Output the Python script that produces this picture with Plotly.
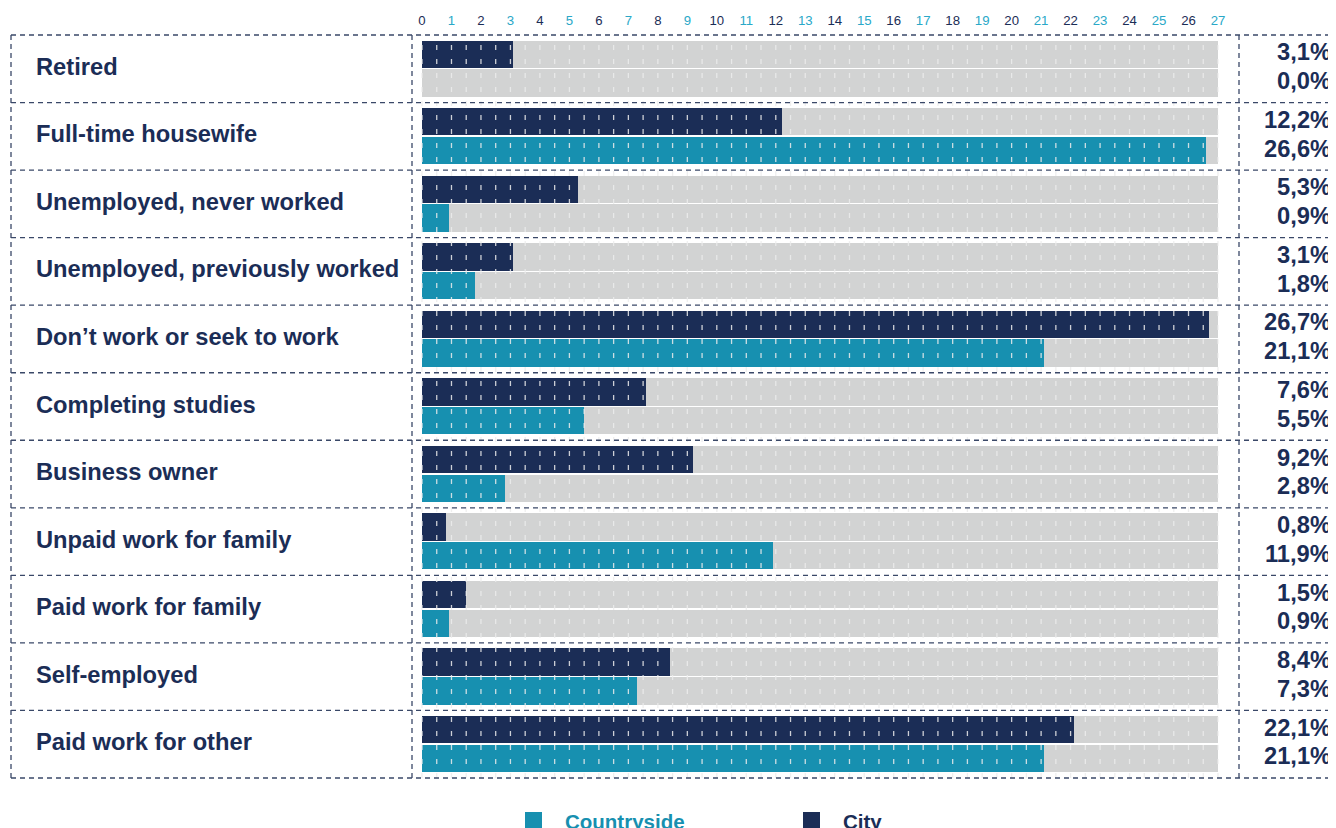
import plotly.graph_objects as go

categories = [
    "Retired", "Full-time housewife", "Unemployed, never worked",
    "Unemployed, previously worked", "Don’t work or seek to work",
    "Completing studies", "Business owner", "Unpaid work for family",
    "Paid work for family", "Self-employed", "Paid work for other",
]
city = [3.1, 12.2, 5.3, 3.1, 26.7, 7.6, 9.2, 0.8, 1.5, 8.4, 22.1]
countryside = [0.0, 26.6, 0.9, 1.8, 21.1, 5.5, 2.8, 11.9, 0.9, 7.3, 21.1]
scale_max = 27
tick_values = list(range(0, 28))
legend_names = ["Countryside", "City"]

NAVY = "#1b2d56"
TEAL = "#1790b0"
GRAY = "#d2d3d3"
CYAN = "#2aa8c8"
BORDER = "#3a4868"
FONT = "Liberation Sans"

OFF = 8  # page body margin
W, H = 1336 - OFF, 828 - OFF
L, T = 412 - OFF, 35 - OFF
R = W - (1239 - OFF)
B = H - (778 - OFF)
PW, PH = W - L - R, H - T - B


def pax(p):
    return (p - OFF - L) / PW


def pay(p):
    return (H - B - (p - OFF)) / PH


n = len(categories)
rows = list(range(n))
city_y = [i + 0.285 for i in rows]
country_y = [i + 0.71 for i in rows]
bw = 0.405

fig = go.Figure()
fig.add_trace(go.Bar(x=[scale_max] * n, y=city_y, orientation="h", width=bw,
                     marker=dict(color=GRAY, line=dict(width=0)), showlegend=False, hoverinfo="skip"))
fig.add_trace(go.Bar(x=[scale_max] * n, y=country_y, orientation="h", width=bw,
                     marker=dict(color=GRAY, line=dict(width=0)), showlegend=False, hoverinfo="skip"))
fig.add_trace(go.Bar(x=city, y=city_y, orientation="h", width=bw, name="City",
                     marker=dict(color=NAVY, line=dict(width=0)), showlegend=False))
fig.add_trace(go.Bar(x=countryside, y=country_y, orientation="h", width=bw, name="Countryside",
                     marker=dict(color=TEAL, line=dict(width=0)), showlegend=False))

shapes = []
# dashed light grid over bars
k = 0
while k * 0.5 <= scale_max:
    shapes.append(dict(type="line", xref="x", yref="paper", x0=k * 0.5, x1=k * 0.5,
                       y0=0, y1=1, layer="above",
                       line=dict(color="rgba(236,236,236,0.85)", width=1.3, dash="5px,9px")))
    k += 1

# dashed row boxes
for i in range(n + 1):
    yy = 1 - i / n
    shapes.append(dict(type="line", xref="paper", yref="paper", x0=pax(11), x1=pax(1345),
                       y0=yy, y1=yy, layer="above",
                       line=dict(color=BORDER, width=1.3, dash="5px,4px")))
for xp in [11, 412, 1239]:
    shapes.append(dict(type="line", xref="paper", yref="paper", x0=pax(xp), x1=pax(xp),
                       y0=0, y1=1, layer="above",
                       line=dict(color=BORDER, width=1.3, dash="5px,4px")))

# legend squares
shapes.append(dict(type="rect", xref="paper", yref="paper", x0=pax(525), x1=pax(542),
                   y0=pay(829), y1=pay(812), fillcolor=TEAL, line=dict(width=0)))
shapes.append(dict(type="rect", xref="paper", yref="paper", x0=pax(803), x1=pax(820),
                   y0=pay(829), y1=pay(812), fillcolor=NAVY, line=dict(width=0)))

annotations = []
for i, c in enumerate(categories):
    annotations.append(dict(text=c, xref="paper", yref="y", x=pax(34), y=i + 0.5, yshift=2,
                            xanchor="left", yanchor="middle", showarrow=False,
                            font=dict(family=FONT, size=23.7, color=NAVY, weight="bold")))
for i in rows:
    for yv, v in [(city_y[i], city[i]), (country_y[i], countryside[i])]:
        annotations.append(dict(text=f"{v:.1f}%".replace(".", ","), xref="paper", yref="y",
                                x=pax(1333), y=yv, yshift=2, xanchor="right", yanchor="middle",
                                showarrow=False,
                                font=dict(family=FONT, size=23.7, color=NAVY, weight="bold")))
annotations.append(dict(text=legend_names[0], xref="paper", yref="paper", x=pax(563), y=pay(821),
                        xanchor="left", yanchor="middle", showarrow=False,
                        font=dict(family=FONT, size=20.5, color=TEAL, weight="bold")))
annotations.append(dict(text=legend_names[1], xref="paper", yref="paper", x=pax(841), y=pay(821),
                        xanchor="left", yanchor="middle", showarrow=False,
                        font=dict(family=FONT, size=20.5, color=NAVY, weight="bold")))

tick_text = [f'<span style="color:{NAVY if t % 2 == 0 else CYAN}">{t}</span>' for t in tick_values]

fig.update_layout(
    width=W, height=H, autosize=False,
    margin=dict(l=L, r=R, t=T, b=B, pad=0, autoexpand=False),
    paper_bgcolor="white", plot_bgcolor="white",
    barmode="overlay", bargap=0,
    shapes=shapes, annotations=annotations,
    xaxis=dict(range=[-10 / 29.48, scale_max + 21 / 29.48], side="top", showgrid=False,
               zeroline=False, showline=False, tickvals=tick_values, ticktext=tick_text,
               ticks="outside", ticklen=4, tickcolor="rgba(0,0,0,0)", automargin=False,
               tickfont=dict(family=FONT, size=13.2, color=NAVY), fixedrange=True),
    yaxis=dict(range=[n, 0], showgrid=False, zeroline=False, showticklabels=False,
               showline=False, fixedrange=True, automargin=False),
    font=dict(family=FONT),
)

fig.write_html("out.html")
